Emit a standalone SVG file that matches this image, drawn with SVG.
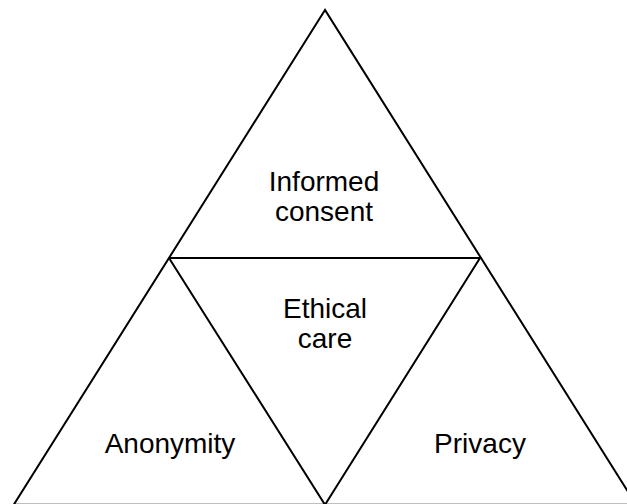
<svg xmlns="http://www.w3.org/2000/svg" width="627" height="504" viewBox="0 0 627 504">
<style>
.edge{fill:none;stroke:#000;stroke-width:2;stroke-linejoin:miter}
.lbl{font-family:"Liberation Sans",Arial,sans-serif;font-size:28px;fill:#000;text-anchor:middle}
</style>
<rect width="627" height="504" fill="#fff"/>
<g id="connectors">
<polygon class="edge" points="325,10 13.7,504.8 636.3,504.8"/>
<polyline class="edge" points="169,258 480,258 325,504.8 169,258"/>
</g>
<g id="informed-consent">
<text class="lbl" x="324" y="191">Informed</text>
<text class="lbl" x="324" y="221">consent</text>
</g>
<g id="ethical-care">
<text class="lbl" x="325" y="318">Ethical</text>
<text class="lbl" x="325" y="348">care</text>
</g>
<g id="anonymity">
<text class="lbl" x="170" y="453">Anonymity</text>
</g>
<g id="privacy">
<text class="lbl" x="480" y="453">Privacy</text>
</g>
</svg>
